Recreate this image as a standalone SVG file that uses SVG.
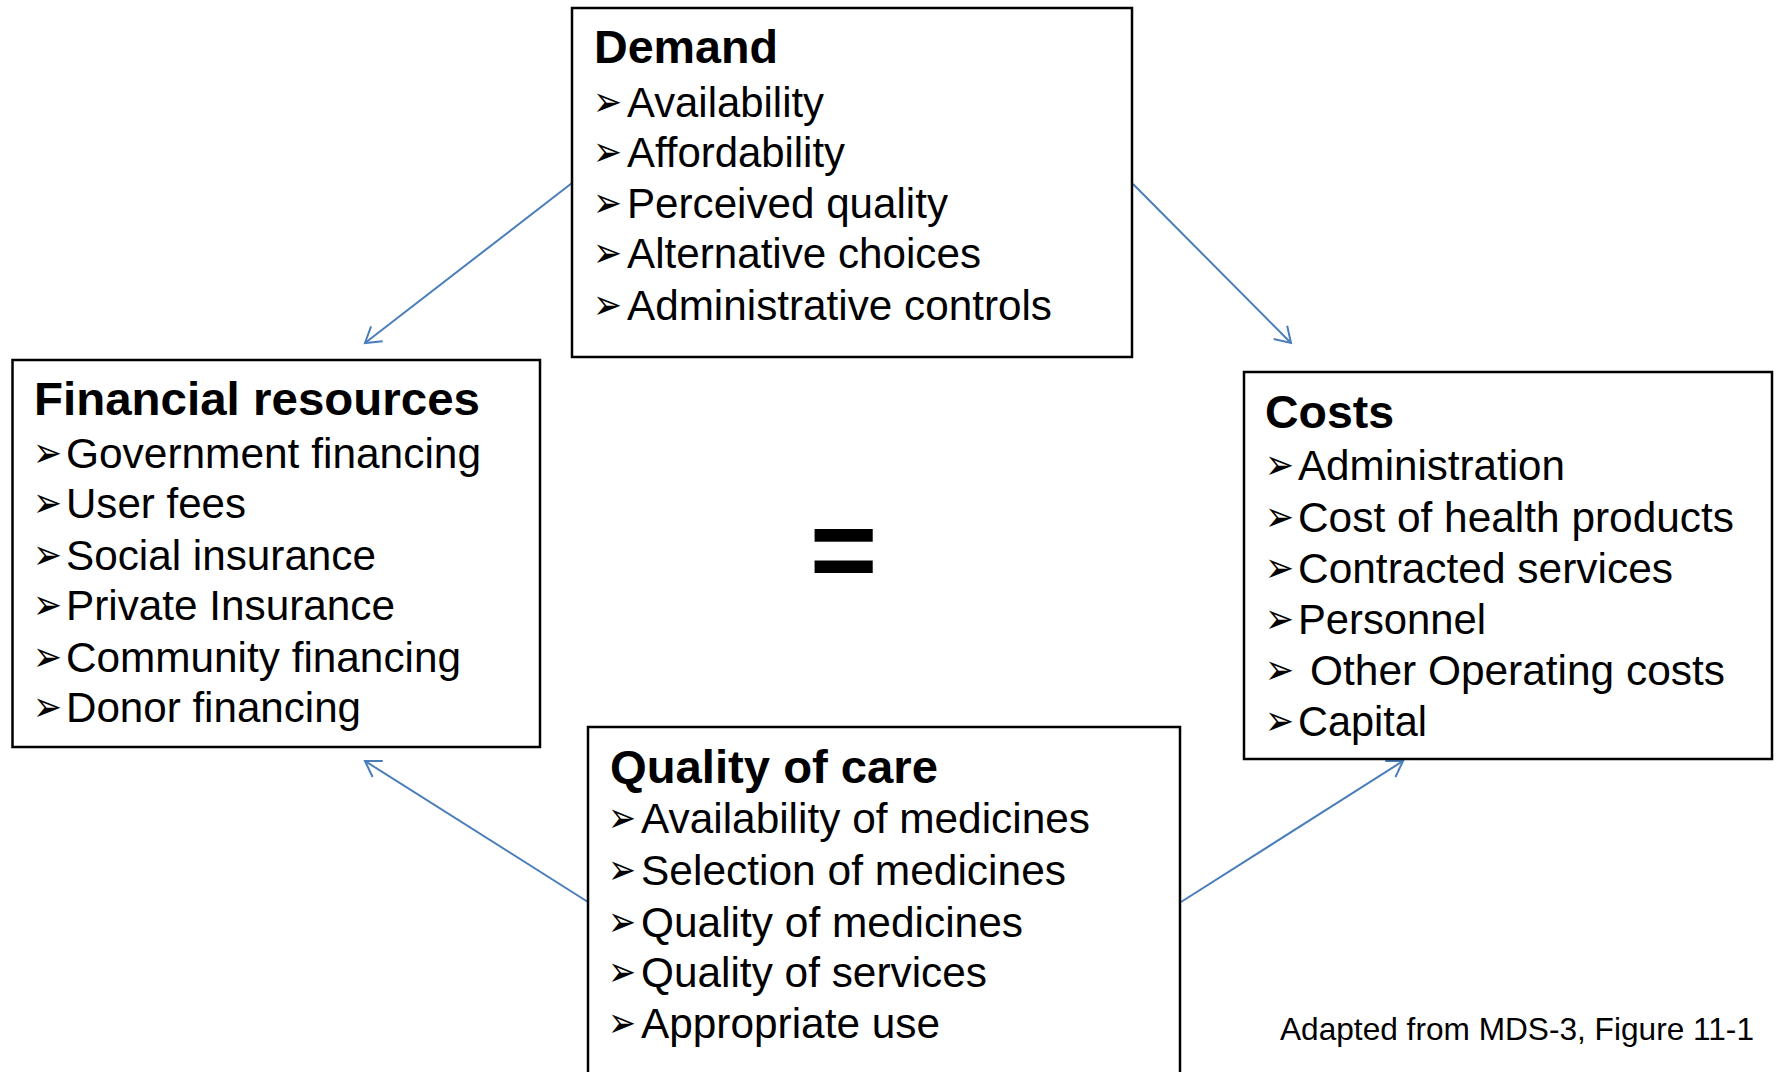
<svg xmlns="http://www.w3.org/2000/svg" width="1777" height="1072" viewBox="0 0 1777 1072">
<style>
.box{fill:#fff;stroke:#000;stroke-width:2.5}
.t{font-family:"Liberation Sans",Arial,sans-serif;font-size:47px;font-weight:bold;fill:#000}
.i{font-family:"Liberation Sans",Arial,sans-serif;font-size:42.3px;fill:#000}
.b{font-family:"DejaVu Sans",sans-serif;font-size:42px;fill:#000}
.c{fill:none;stroke:#4a7ebb;stroke-width:2}
.cap{font-family:"Liberation Sans",Arial,sans-serif;font-size:31.5px;fill:#000}
.eq{font-family:"Liberation Sans",Arial,sans-serif;font-size:116px;font-weight:bold;fill:#000}
</style>
<defs>
<marker id="arr" markerUnits="userSpaceOnUse" markerWidth="40" markerHeight="40" viewBox="-20 -20 40 40" refX="0" refY="0" orient="auto">
<path d="M-15,-9.5 L0,0 L-15,9.5" fill="none" stroke="#4a7ebb" stroke-width="2"/>
</marker>
</defs>
<rect width="1777" height="1072" fill="#fff"/>
<g id="connectors">
<line class="c" x1="572" y1="183" x2="365" y2="343" marker-end="url(#arr)"/>
<line class="c" x1="1133" y1="184" x2="1291" y2="343" marker-end="url(#arr)"/>
<line class="c" x1="588" y1="902" x2="365" y2="761" marker-end="url(#arr)"/>
<line class="c" x1="1181" y1="902" x2="1403" y2="761" marker-end="url(#arr)"/>
</g>
<g id="demand">
<rect class="box" x="572" y="8" width="560" height="349"/>
<text class="t" x="594" y="63" textLength="184" lengthAdjust="spacingAndGlyphs">Demand</text>
<text class="b" x="593" y="116" textLength="29" lengthAdjust="spacingAndGlyphs">➢</text>
<text class="i" x="627" y="117" textLength="197" lengthAdjust="spacingAndGlyphs">Availability</text>
<text class="b" x="593" y="166" textLength="29" lengthAdjust="spacingAndGlyphs">➢</text>
<text class="i" x="627" y="167" textLength="218" lengthAdjust="spacingAndGlyphs">Affordability</text>
<text class="b" x="593" y="217" textLength="29" lengthAdjust="spacingAndGlyphs">➢</text>
<text class="i" x="627" y="218" textLength="321" lengthAdjust="spacingAndGlyphs">Perceived quality</text>
<text class="b" x="593" y="267" textLength="29" lengthAdjust="spacingAndGlyphs">➢</text>
<text class="i" x="627" y="268" textLength="354" lengthAdjust="spacingAndGlyphs">Alternative choices</text>
<text class="b" x="593" y="319" textLength="29" lengthAdjust="spacingAndGlyphs">➢</text>
<text class="i" x="627" y="320" textLength="425" lengthAdjust="spacingAndGlyphs">Administrative controls</text>
</g>
<g id="financial">
<rect class="box" x="12.5" y="360" width="527.5" height="387"/>
<text class="t" x="34" y="415" textLength="446" lengthAdjust="spacingAndGlyphs">Financial resources</text>
<text class="b" x="33" y="467" textLength="29" lengthAdjust="spacingAndGlyphs">➢</text>
<text class="i" x="66" y="468" textLength="415" lengthAdjust="spacingAndGlyphs">Government financing</text>
<text class="b" x="33" y="517" textLength="29" lengthAdjust="spacingAndGlyphs">➢</text>
<text class="i" x="66" y="518" textLength="180" lengthAdjust="spacingAndGlyphs">User fees</text>
<text class="b" x="33" y="569" textLength="29" lengthAdjust="spacingAndGlyphs">➢</text>
<text class="i" x="66" y="570" textLength="310" lengthAdjust="spacingAndGlyphs">Social insurance</text>
<text class="b" x="33" y="619" textLength="29" lengthAdjust="spacingAndGlyphs">➢</text>
<text class="i" x="66" y="620" textLength="329" lengthAdjust="spacingAndGlyphs">Private Insurance</text>
<text class="b" x="33" y="671" textLength="29" lengthAdjust="spacingAndGlyphs">➢</text>
<text class="i" x="66" y="672" textLength="395" lengthAdjust="spacingAndGlyphs">Community financing</text>
<text class="b" x="33" y="721" textLength="29" lengthAdjust="spacingAndGlyphs">➢</text>
<text class="i" x="66" y="722" textLength="295" lengthAdjust="spacingAndGlyphs">Donor financing</text>
</g>
<g id="costs">
<rect class="box" x="1244" y="372" width="528" height="387"/>
<text class="t" x="1265" y="428" textLength="129" lengthAdjust="spacingAndGlyphs">Costs</text>
<text class="b" x="1265" y="479" textLength="29" lengthAdjust="spacingAndGlyphs">➢</text>
<text class="i" x="1298" y="480" textLength="267" lengthAdjust="spacingAndGlyphs">Administration</text>
<text class="b" x="1265" y="531" textLength="29" lengthAdjust="spacingAndGlyphs">➢</text>
<text class="i" x="1298" y="532" textLength="436" lengthAdjust="spacingAndGlyphs">Cost of health products</text>
<text class="b" x="1265" y="582" textLength="29" lengthAdjust="spacingAndGlyphs">➢</text>
<text class="i" x="1298" y="583" textLength="375" lengthAdjust="spacingAndGlyphs">Contracted services</text>
<text class="b" x="1265" y="633" textLength="29" lengthAdjust="spacingAndGlyphs">➢</text>
<text class="i" x="1298" y="634" textLength="188" lengthAdjust="spacingAndGlyphs">Personnel</text>
<text class="b" x="1265" y="684" textLength="29" lengthAdjust="spacingAndGlyphs">➢</text>
<text class="i" x="1310" y="685" textLength="415" lengthAdjust="spacingAndGlyphs">Other Operating costs</text>
<text class="b" x="1265" y="735" textLength="29" lengthAdjust="spacingAndGlyphs">➢</text>
<text class="i" x="1298" y="736" textLength="129" lengthAdjust="spacingAndGlyphs">Capital</text>
</g>
<g id="quality">
<rect class="box" x="588" y="727" width="592" height="360"/>
<text class="t" x="610" y="783" textLength="328" lengthAdjust="spacingAndGlyphs">Quality of care</text>
<text class="b" x="608" y="832" textLength="28" lengthAdjust="spacingAndGlyphs">➢</text>
<text class="i" x="641" y="833" textLength="449" lengthAdjust="spacingAndGlyphs">Availability of medicines</text>
<text class="b" x="608" y="884" textLength="28" lengthAdjust="spacingAndGlyphs">➢</text>
<text class="i" x="641" y="885" textLength="425" lengthAdjust="spacingAndGlyphs">Selection of medicines</text>
<text class="b" x="608" y="936" textLength="28" lengthAdjust="spacingAndGlyphs">➢</text>
<text class="i" x="641" y="937" textLength="382" lengthAdjust="spacingAndGlyphs">Quality of medicines</text>
<text class="b" x="608" y="986" textLength="28" lengthAdjust="spacingAndGlyphs">➢</text>
<text class="i" x="641" y="987" textLength="346" lengthAdjust="spacingAndGlyphs">Quality of services</text>
<text class="b" x="608" y="1037" textLength="28" lengthAdjust="spacingAndGlyphs">➢</text>
<text class="i" x="641" y="1038" textLength="299" lengthAdjust="spacingAndGlyphs">Appropriate use</text>
</g>
<g id="equals">
<text class="eq" x="843.5" y="590" text-anchor="middle">=</text>
</g>
<g id="caption">
<text class="cap" x="1280" y="1040" textLength="474" lengthAdjust="spacingAndGlyphs">Adapted from MDS-3, Figure 11-1</text>
</g>
</svg>
